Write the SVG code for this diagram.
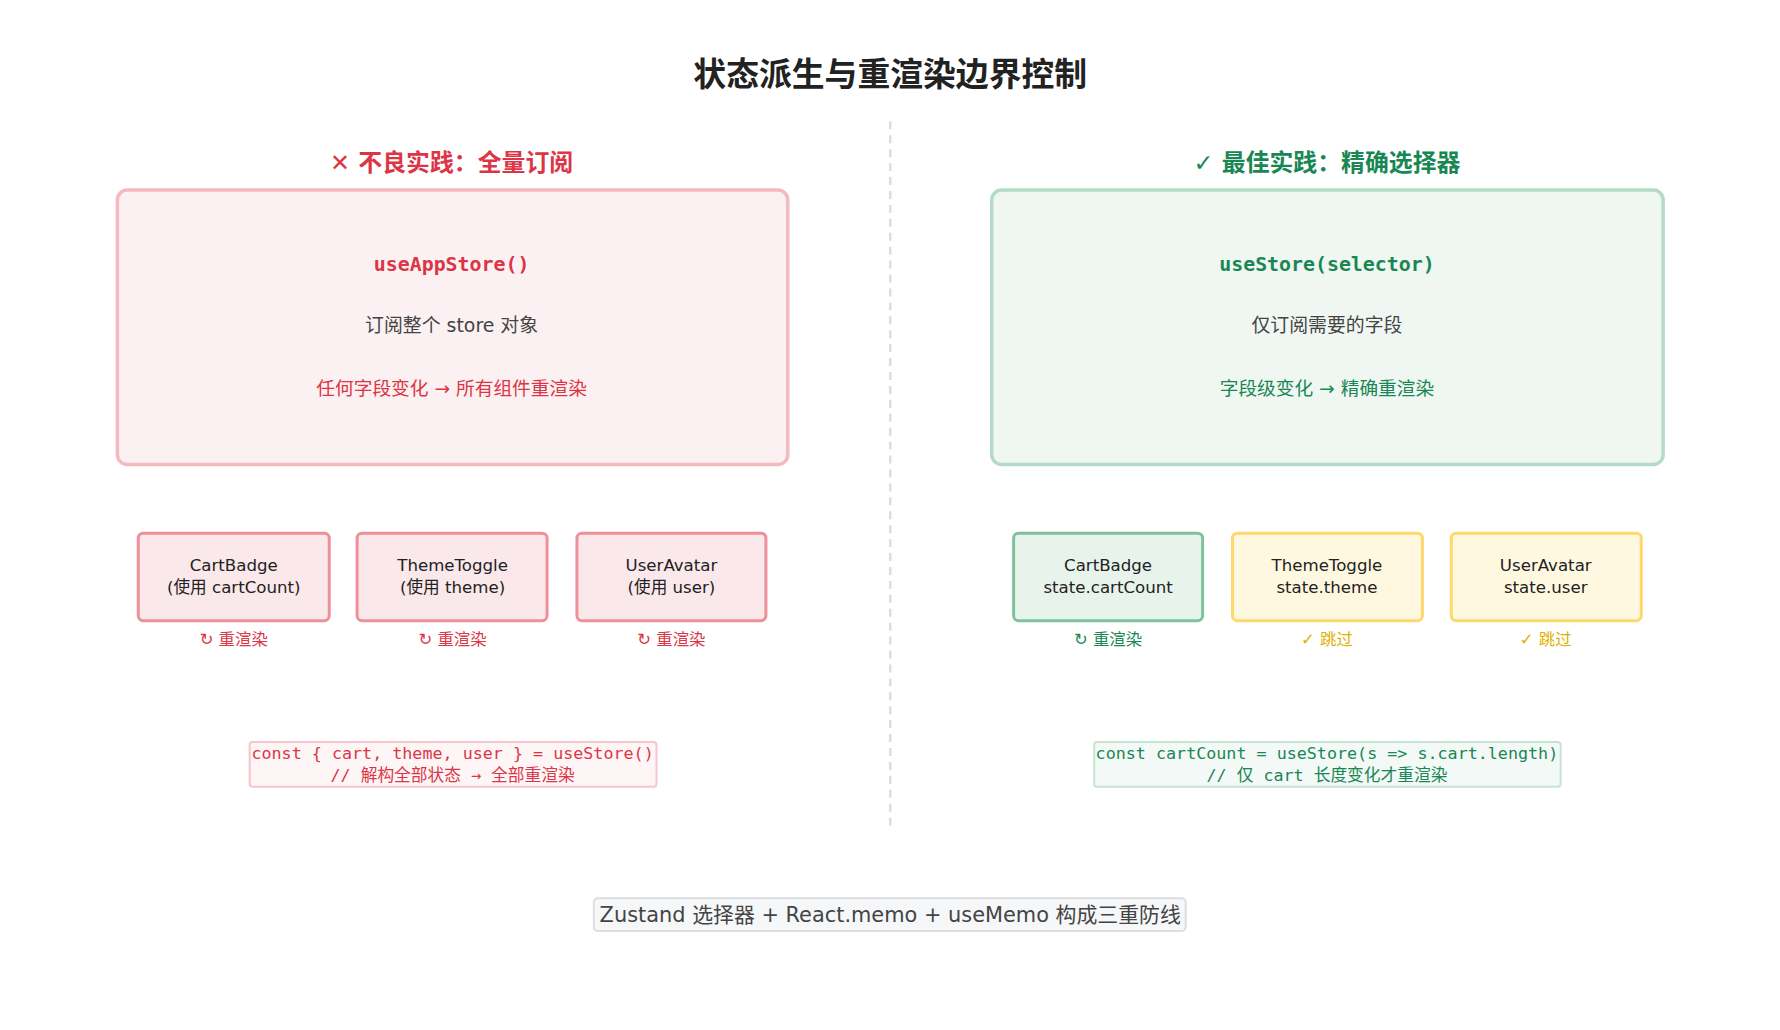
<svg xmlns="http://www.w3.org/2000/svg" width="1780" height="1030" viewBox="0 0 1780 1030">
<style>
text{font-family:"DejaVu Sans","Noto Sans CJK SC",sans-serif;text-anchor:middle}
.mono{font-family:"DejaVu Sans Mono","Noto Sans CJK SC",monospace}
.red{fill:#dc3545}.green{fill:#198754}.yel{fill:#e0b000}.gray{fill:#444}
.sm{font-size:16.7px;fill:#222}
.lb{font-size:16.5px}
.bad{fill:#fae8ea;stroke:#ee8f99;stroke-width:3}
.ok{fill:#e8f3ec;stroke:#7fc19d;stroke-width:3}
.skip{fill:#fff8e1;stroke:#ffd86b;stroke-width:3}
</style>
<rect width="1780" height="1030" fill="#fff"/>
<g transform="scale(0.9947)">
<text x="895" y="86" font-size="33" font-weight="bold" fill="#222">状态派生与重渲染边界控制</text>
<g id="connectors"><line x1="895" y1="122" x2="895" y2="831" stroke="#ddd" stroke-width="2.5" stroke-dasharray="8,6"/></g>
<g id="left">
<text x="454" y="172" font-size="24" font-weight="bold" class="red">✕ 不良实践：全量订阅</text>
<rect x="118" y="191" width="674" height="276" rx="10" fill="#fbf1f2" stroke="#f5b9c0" stroke-width="3.5"/>
<text x="454" y="272" font-size="20" font-weight="bold" class="mono red">useAppStore()</text>
<text x="454" y="334" font-size="19" class="gray">订阅整个 store 对象</text>
<text x="454" y="397" font-size="18.8" class="red">任何字段变化 → 所有组件重渲染</text>
</g>
<g id="right">
<text x="1334" y="172" font-size="24" font-weight="bold" class="green">✓ 最佳实践：精确选择器</text>
<rect x="997" y="191" width="675" height="276" rx="10" fill="#f0f7f3" stroke="#b3dbc5" stroke-width="3.5"/>
<text x="1334" y="272" font-size="20" font-weight="bold" class="mono green">useStore(selector)</text>
<text x="1334" y="334" font-size="19" class="gray">仅订阅需要的字段</text>
<text x="1334" y="397" font-size="18.8" class="green">字段级变化 → 精确重渲染</text>
</g>
<g id="l1"><rect x="139" y="536" width="192" height="88" rx="5" class="bad"/><text x="235" y="574" class="sm">CartBadge</text><text x="235" y="596" class="sm">(使用 cartCount)</text><text x="235" y="648" class="lb red">↻ 重渲染</text></g>
<g id="l2"><rect x="359" y="536" width="191" height="88" rx="5" class="bad"/><text x="455" y="574" class="sm">ThemeToggle</text><text x="455" y="596" class="sm">(使用 theme)</text><text x="455" y="648" class="lb red">↻ 重渲染</text></g>
<g id="l3"><rect x="580" y="536" width="190" height="88" rx="5" class="bad"/><text x="675" y="574" class="sm">UserAvatar</text><text x="675" y="596" class="sm">(使用 user)</text><text x="675" y="648" class="lb red">↻ 重渲染</text></g>
<g id="r1"><rect x="1019" y="536" width="190" height="88" rx="5" class="ok"/><text x="1114" y="574" class="sm">CartBadge</text><text x="1114" y="596" class="sm">state.cartCount</text><text x="1114" y="648" class="lb green">↻ 重渲染</text></g>
<g id="r2"><rect x="1239" y="536" width="191" height="88" rx="5" class="skip"/><text x="1334" y="574" class="sm">ThemeToggle</text><text x="1334" y="596" class="sm">state.theme</text><text x="1334" y="648" class="lb yel">✓ 跳过</text></g>
<g id="r3"><rect x="1459" y="536" width="191" height="88" rx="5" class="skip"/><text x="1554" y="574" class="sm">UserAvatar</text><text x="1554" y="596" class="sm">state.user</text><text x="1554" y="648" class="lb yel">✓ 跳过</text></g>
<g id="codeL"><rect x="251" y="746" width="409" height="45" rx="3" fill="#fdf5f6" stroke="#f5c6cb" stroke-width="2"/><text x="455" y="763" font-size="16.8" class="mono red">const { cart, theme, user } = useStore()</text><text x="455" y="785" font-size="16.8" class="mono red">// 解构全部状态 → 全部重渲染</text></g>
<g id="codeR"><rect x="1100" y="746" width="469" height="45" rx="3" fill="#f3f9f6" stroke="#c6e3d3" stroke-width="2"/><text x="1334" y="763" font-size="16.8" class="mono green">const cartCount = useStore(s =&gt; s.cart.length)</text><text x="1334" y="785" font-size="16.8" class="mono green">// 仅 cart 长度变化才重渲染</text></g>
<g id="footer"><rect x="597" y="903" width="595" height="33" rx="4" fill="#f6f7f8" stroke="#dcdde0" stroke-width="2"/><text x="895" y="927" font-size="21" fill="#444">Zustand 选择器 + React.memo + useMemo 构成三重防线</text></g>
</g>
</svg>
